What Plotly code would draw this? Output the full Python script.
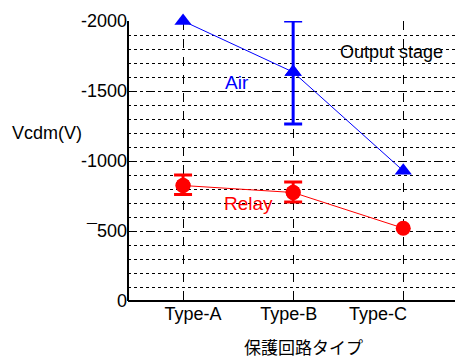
import plotly.graph_objects as go

categories = ["Type-A", "Type-B", "Type-C"]
cat_pos = [0, 1, 2]
air = [2000, 1635, 930]
air_err_plus = [None, 365, None]
air_err_minus = [None, 370, None]
relay = [825, 775, 520]
relay_err_plus = [75, 75, None]
relay_err_minus = [65, 68, None]
ytick_vals = [0, 500, 1000, 1500, 2000]
ytick_text = ["0", "\u00af500", "-1000", "-1500", "-2000"]
label_pos = [0.09, 0.96, 1.77]

FONT = "Liberation Sans, Arial, sans-serif"
fig = go.Figure()


def add_series(vals, ep, em, color, symbol):
    fig.add_trace(go.Scatter(
        x=cat_pos, y=vals, mode="lines+markers",
        line=dict(color=color, width=1),
        marker=dict(symbol=symbol, size=15, color=color),
        cliponaxis=False, showlegend=False))
    idx = [i for i in range(len(vals)) if ep[i] is not None]
    fig.add_trace(go.Scatter(
        x=[cat_pos[i] for i in idx], y=[vals[i] for i in idx], mode="markers",
        marker=dict(symbol=symbol, size=15, color=color),
        error_y=dict(type="data", symmetric=False,
                     array=[ep[i] for i in idx], arrayminus=[em[i] for i in idx],
                     color=color, thickness=3, width=9),
        cliponaxis=False, showlegend=False))


add_series(air, air_err_plus, air_err_minus, "#0000ff", "triangle-up")
add_series(relay, relay_err_plus, relay_err_minus, "#ff0000", "circle")
fig.add_trace(go.Scatter(x=label_pos, y=[0, 0, 0], xaxis="x2", mode="markers",
                         marker=dict(opacity=0), showlegend=False, hoverinfo="skip"))

fig.update_layout(
    width=455, height=358,
    margin=dict(l=128, r=0, t=21, b=57),
    paper_bgcolor="white", plot_bgcolor="white",
    font=dict(family=FONT, size=18, color="black"),
    xaxis=dict(range=[-0.5, 2.47], tickvals=cat_pos, showticklabels=False,
               showgrid=True, gridcolor="black", griddash="dash", gridwidth=1,
               showline=False, zeroline=False, ticks=""),
    xaxis2=dict(range=[-0.5, 2.47], overlaying="x", side="bottom",
                tickvals=label_pos, ticktext=categories, showgrid=False,
                showline=False, zeroline=False, ticks="",
                tickfont=dict(family=FONT, size=18, color="black")),
    yaxis=dict(range=[0, 2000], tickvals=ytick_vals, ticktext=ytick_text,
               showgrid=True, gridcolor="black", griddash="dash", gridwidth=1,
               minor=dict(dtick=100, showgrid=True, gridcolor="black",
                          griddash="dot", gridwidth=1),
               showline=False, zeroline=False, ticks="",
               tickfont=dict(family=FONT, size=18, color="black")),
    shapes=[
        dict(type="line", xref="paper", yref="paper", x0=0, x1=0, y0=0, y1=1,
             line=dict(color="black", width=2)),
        dict(type="line", xref="paper", yref="paper", x0=0, x1=1, y0=0, y1=0,
             line=dict(color="black", width=2)),
    ],
    annotations=[
        dict(x=0.49, y=1564, xref="x", yref="y", text="Air", showarrow=False,
             font=dict(family=FONT, size=19, color="#0000ff")),
        dict(x=0.59, y=700, xref="x", yref="y", text="Relay", showarrow=False,
             font=dict(family=FONT, size=19, color="#ff0000")),
        dict(x=1.89, y=1779, xref="x", yref="y", text="Output stage", showarrow=False,
             font=dict(family=FONT, size=18, color="black")),
        dict(x=47, y=133, text="Vcdm(V)", showarrow=False,
             xanchor="center", yanchor="middle",
             font=dict(family=FONT, size=18, color="black")),
        dict(x=303, y=346, text="保護回路タイプ", showarrow=False,
             xanchor="center", yanchor="middle",
             font=dict(family="Noto Sans CJK JP", size=17, color="black")),
    ],
)
W, H, L, R, T, B = 455, 358, 128, 0, 21, 57
pw, ph = W - L - R, H - T - B
anns = list(fig.layout.annotations)
for a in anns[3:]:
    px, py = a.x, a.y
    a.xref = "paper"; a.yref = "paper"
    a.x = (px - L) / pw
    a.y = (H - B - py) / ph
fig.layout.annotations = anns
fig.write_html("out.html")
